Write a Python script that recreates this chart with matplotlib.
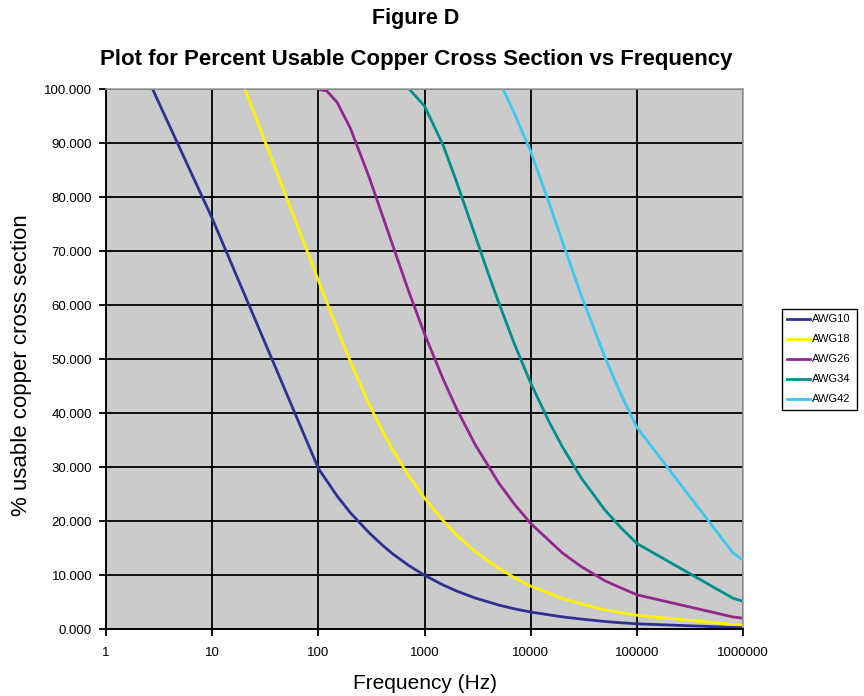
import matplotlib
matplotlib.use('Agg')
import matplotlib.pyplot as plt
from matplotlib.ticker import FuncFormatter, FormatStrFormatter, NullLocator

plt.rcParams['font.family'] = ['Liberation Sans', 'DejaVu Sans']

# values (frequency in Hz, % usable copper)
awg10_hz = [2.75, 10, 100, 150, 200, 300, 400, 500, 700, 1000, 1500, 2000, 3000,
            5000, 7000, 10000, 20000, 30000, 50000, 70000, 100000, 800000, 1000000]
awg10_pct = [100, 76.1, 29.8, 24.7, 21.6, 17.9, 15.6, 14.0, 11.9, 10.0, 8.2, 7.1, 5.8,
             4.5, 3.8, 3.2, 2.3, 1.9, 1.45, 1.22, 1.02, 0.36, 0.32]

awg18_hz = [20.4, 100, 150, 200, 300, 400, 500, 700, 1000, 1500, 2000, 3000,
            5000, 7000, 10000, 20000, 30000, 50000, 70000, 100000, 800000, 1000000]
awg18_pct = [100, 64.6, 55.7, 49.6, 41.7, 36.8, 33.3, 28.6, 24.3, 20.1, 17.5, 14.4,
             11.3, 9.6, 8.0, 5.7, 4.7, 3.6, 3.1, 2.6, 0.91, 0.82]

awg26_hz = [100, 120, 150, 200, 300, 400, 500, 700, 1000, 1500, 2000, 3000,
            5000, 7000, 10000, 20000, 30000, 50000, 70000, 100000, 800000, 1000000]
awg26_pct = [100, 99.7, 97.6, 92.8, 83.8, 76.7, 71.2, 62.9, 54.7, 46.3, 40.9, 34.2,
             27.1, 23.2, 19.6, 14.1, 11.6, 9.0, 7.7, 6.4, 2.3, 2.06]

awg34_hz = [720, 1000, 1500, 2000, 3000, 4000, 5000, 7000, 10000, 15000, 20000,
            30000, 50000, 70000, 100000, 800000, 1000000]
awg34_pct = [100, 96.9, 89.6, 82.9, 72.9, 65.8, 60.5, 52.9, 45.6, 38.3, 33.7,
             28.0, 22.1, 18.9, 15.9, 5.78, 5.18]

awg42_hz = [5500, 7000, 10000, 15000, 20000, 30000, 50000, 70000, 100000,
            800000, 1000000]
awg42_pct = [100, 95.6, 88.5, 78.8, 71.6, 61.8, 50.4, 43.7, 37.4, 14.2, 12.8]

labels = ['AWG10', 'AWG18', 'AWG26', 'AWG34', 'AWG42']
colors = ['#2E3192', '#FFF200', '#92278F', '#00908E', '#3CC8F0']
x_ticks = [1, 10, 100, 1000, 10000, 100000, 1000000]
y_ticks = [0, 10, 20, 30, 40, 50, 60, 70, 80, 90, 100]

fig = plt.figure(figsize=(8.64, 6.96), dpi=100)
ax = fig.add_axes([0.1227, 0.0958, 0.7373, 0.7759])
ax.set_facecolor('#CBCBCB')

series = [(awg10_hz, awg10_pct), (awg18_hz, awg18_pct), (awg26_hz, awg26_pct),
          (awg34_hz, awg34_pct), (awg42_hz, awg42_pct)]
for (hz, pct), name, c in zip(series, labels, colors):
    ax.plot(hz, pct, color=c, lw=2.0, label=name, solid_joinstyle='round')

ax.set_xscale('log')
ax.set_xlim(1, 1000000)
ax.set_ylim(0, 100)
ax.set_xticks(x_ticks)
ax.xaxis.set_major_formatter(FuncFormatter(lambda v, p: '%d' % round(v)))
ax.xaxis.set_minor_locator(NullLocator())
ax.set_yticks(y_ticks)
ax.yaxis.set_major_formatter(FormatStrFormatter('%.3f'))

ax.grid(True, color='black', lw=1.3)
ax.set_axisbelow(True)
ax.tick_params(direction='out', length=5, width=1.3, labelsize=9.5, colors='black')
ax.tick_params(axis='x', pad=8)
ax.tick_params(axis='y', pad=5)

for s in ['left', 'bottom']:
    ax.spines[s].set_color('black')
    ax.spines[s].set_linewidth(1.4)
for s in ['top', 'right']:
    ax.spines[s].set_color('#A0A0A0')
    ax.spines[s].set_linewidth(1.2)

ax.set_xlabel('Frequency (Hz)', fontsize=15, va='center')
ax.xaxis.set_label_coords(0.5, -0.0994)
ax.set_ylabel('% usable copper cross section', fontsize=16, va='center')
ax.yaxis.set_label_coords(-0.132, 0.489)

fig.text(0.4815, 0.9138, 'Plot for Percent Usable Copper Cross Section vs Frequency',
         ha='center', va='center', fontsize=16, weight='bold')
fig.text(0.4815, 0.974, 'Figure D', ha='center', va='center', fontsize=15.5, weight='bold')

leg = fig.legend(loc='center left', bbox_to_anchor=(0.905, 0.4835), fontsize=8,
                 frameon=True, fancybox=False, edgecolor='black', framealpha=1,
                 handlelength=2.05, handletextpad=0.2, labelspacing=0.9, borderpad=0.5,
                 borderaxespad=0)
leg.get_frame().set_linewidth(1.0)

fig.savefig('out.png', dpi=100)
